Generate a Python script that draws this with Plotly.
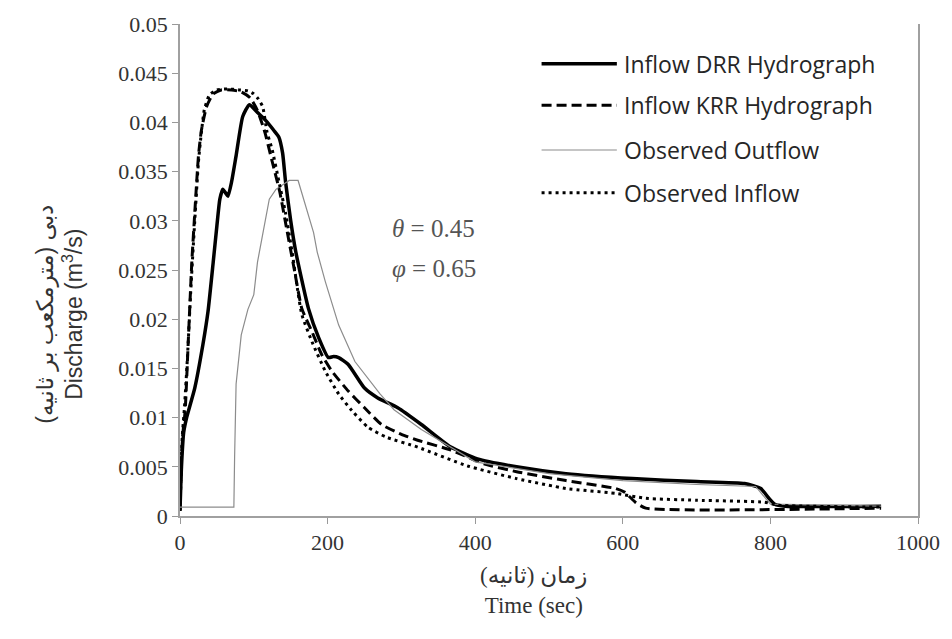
import plotly.graph_objects as go

# ---------------- data ----------------
t_drr = [0, 2, 5, 9, 20, 31, 38, 45, 50, 54, 58, 62, 65, 70, 76, 85, 94, 105, 116, 127, 134, 139,
         143, 150, 157, 174, 188, 201, 208, 215, 228, 250, 268, 295, 327, 367, 403, 456, 523,
         613, 700, 765, 787, 798, 806, 820, 950]
q_drr = [0.0006, 0.0050, 0.0085, 0.0100, 0.0130, 0.0174, 0.0208, 0.0258, 0.0295, 0.0322, 0.0332,
         0.0328, 0.0325, 0.0340, 0.0366, 0.0406, 0.0418, 0.0410, 0.0402, 0.0392, 0.0385, 0.0369,
         0.0340, 0.0300, 0.0268, 0.0211, 0.0181, 0.0161, 0.0162, 0.0161, 0.0154, 0.0130,
         0.0120, 0.0110, 0.0093, 0.0070, 0.0058, 0.0050, 0.0043, 0.0038, 0.0035, 0.0033, 0.0028,
         0.0018, 0.0012, 0.0010, 0.0010]

t_krr = [0, 2, 4, 7, 11, 16, 20, 25, 29, 36, 45, 56, 70, 83, 95, 105, 115, 125, 135, 145, 155, 165,
         179, 192, 206, 228, 250, 273, 300, 322, 367, 412, 456, 523, 590, 603, 617, 631, 950]
q_krr = [0.0005, 0.0060, 0.0085, 0.0107, 0.0174, 0.0258, 0.0308, 0.0366, 0.0392, 0.0416, 0.0429,
         0.0433, 0.0433, 0.0431, 0.0425, 0.0412, 0.0390, 0.0360, 0.0330, 0.0290, 0.0250, 0.0211,
         0.0187, 0.0164, 0.0147, 0.0127, 0.0110, 0.0093, 0.0083, 0.0077, 0.0067, 0.0053, 0.0045,
         0.0036, 0.0028, 0.0024, 0.0014, 0.0008, 0.0008]

t_out = [0, 73, 74, 76, 83, 92, 100, 105, 113, 121, 130, 148, 160, 174, 181, 186, 197, 215, 237,
         271, 290, 327, 400, 500, 600, 700, 780, 800, 950]
q_out = [0.0009, 0.0009, 0.0060, 0.0134, 0.0184, 0.0210, 0.0225, 0.0258, 0.0290, 0.0322, 0.0332,
         0.0341, 0.0341, 0.0305, 0.0288, 0.0268, 0.0238, 0.0194, 0.0157, 0.0124, 0.0108, 0.0088,
         0.0055, 0.0043, 0.0036, 0.0032, 0.0030, 0.0012, 0.0010]

t_in = [0, 3, 6, 10, 15, 20, 25, 29, 33, 40, 50, 65, 80, 92, 100, 106, 112, 118, 125, 134, 143, 152,
        165, 180, 197, 215, 233, 255, 280, 322, 389, 456, 523, 590, 631, 700, 792, 810, 950]
q_in = [0.0005, 0.0080, 0.0110, 0.0160, 0.0235, 0.0300, 0.0360, 0.0390, 0.0413, 0.0428, 0.0433,
        0.0434, 0.0433, 0.0432, 0.0429, 0.0424, 0.0416, 0.0390, 0.0372, 0.0340, 0.0308, 0.0268,
        0.0205, 0.0175, 0.0147, 0.0124, 0.0107, 0.0090, 0.0080, 0.0070, 0.0051, 0.0038, 0.0028,
        0.0023, 0.0018, 0.0016, 0.0014, 0.0011, 0.0009]

series_names = ["Inflow DRR Hydrograph", "Inflow KRR Hydrograph", "Observed Outflow", "Observed Inflow"]
x_ticks = [0, 200, 400, 600, 800, 1000]
x_tick_text = ["0", "200", "400", "600", "800", "1000"]
y_ticks = [0, 0.005, 0.01, 0.015, 0.02, 0.025, 0.03, 0.035, 0.04, 0.045, 0.05]
y_tick_text = ["0", "0.005", "0.01", "0.015", "0.02", "0.025", "0.03", "0.035", "0.04", "0.045", "0.05"]

# ---------------- styles ----------------
W, H = 952, 639
ML, MR, MT, MB = 180, 27, 20, 123
PW, PH = W - ML - MR, H - MT - MB

styles = [
    dict(color="black", width=3.5, dash="solid"),
    dict(color="black", width=3, dash="10px,5px"),
    dict(color="#8c8c8c", width=1.2, dash="solid"),
    dict(color="black", width=3, dash="3px,4px"),
]
data = [(t_drr, q_drr), (t_krr, q_krr), (t_out, q_out), (t_in, q_in)]
shapes_kind = ["spline", "spline", "linear", "spline"]

fig = go.Figure()
for (tx, qy), name, st, sh in zip(data, series_names, styles, shapes_kind):
    fig.add_trace(go.Scatter(x=tx, y=qy, mode="lines", name=name, showlegend=False,
                             line=dict(color=st["color"], width=st["width"], dash=st["dash"],
                                       shape=sh, smoothing=0.5)))


def px2paper(px, py):
    return (px - ML) / PW, (H - MB - py) / PH


# custom legend (long sample lines as in reference)
leg_rows_y = [60, 102, 147, 190]
shapes = []
annotations = []
for name, st, yy in zip(series_names, styles, leg_rows_y):
    x0, y0 = px2paper(545, yy)
    x1, _ = px2paper(621, yy)
    shapes.append(dict(type="line", xref="paper", yref="paper", x0=x0, x1=x1, y0=y0, y1=y0,
                       line=dict(color=st["color"], width=st["width"], dash=st["dash"])))
    tx, _ = px2paper(626, yy)
    annotations.append(dict(xref="paper", yref="paper", x=tx, y=y0, xanchor="left", yanchor="middle",
                            text=name, showarrow=False,
                            font=dict(family="Open Sans", size=23, color="#262626")))

# parameter labels
for txt, yy in [("<i>θ</i> = 0.45", 226), ("<i>φ</i> = 0.65", 266)]:
    ax, ay = px2paper(392, yy)
    annotations.append(dict(xref="paper", yref="paper", x=ax, y=ay, xanchor="left", yanchor="middle",
                            text=txt, showarrow=False,
                            font=dict(family="Liberation Serif", size=25, color="#555555")))

# axis titles
ax, ay = px2paper(58, 313)
annotations.append(dict(xref="paper", yref="paper", x=ax, y=ay, xanchor="center", yanchor="middle",
                        textangle=-90, showarrow=False,
                        text="دبی (مترمکعب بر ثانیه)<br>Discharge (m<sup>3</sup>/s)",
                        font=dict(family="Liberation Sans, DejaVu Sans", size=23, color="#333333")))
ax, ay = px2paper(537, 591)
annotations.append(dict(xref="paper", yref="paper", x=ax, y=ay, xanchor="center", yanchor="middle",
                        showarrow=False,
                        text="زمان (ثانیه)<br>Time (sec)",
                        font=dict(family="Liberation Serif, DejaVu Sans", size=23, color="#333333")))

fig.update_layout(
    width=W, height=H,
    margin=dict(l=ML, r=MR, t=MT, b=MB, pad=0),
    paper_bgcolor="white", plot_bgcolor="white",
    showlegend=False,
    shapes=shapes, annotations=annotations,
    xaxis=dict(range=[0, 1000], tickvals=x_ticks, ticktext=x_tick_text, ticks="outside", ticklen=6,
               tickcolor="#999999", showline=True, linecolor="#a0a0a0", linewidth=1.5,
               showgrid=False, zeroline=False,
               tickfont=dict(family="Liberation Serif", size=22, color="#333333")),
    yaxis=dict(range=[0, 0.05], tickvals=y_ticks, ticktext=y_tick_text, ticks="outside", ticklen=6,
               tickcolor="#999999", showline=True, linecolor="#a0a0a0", linewidth=1.5, mirror=True,
               showgrid=False, zeroline=False,
               tickfont=dict(family="Liberation Serif", size=22, color="#333333")),
)

fig.write_html("out.html")
